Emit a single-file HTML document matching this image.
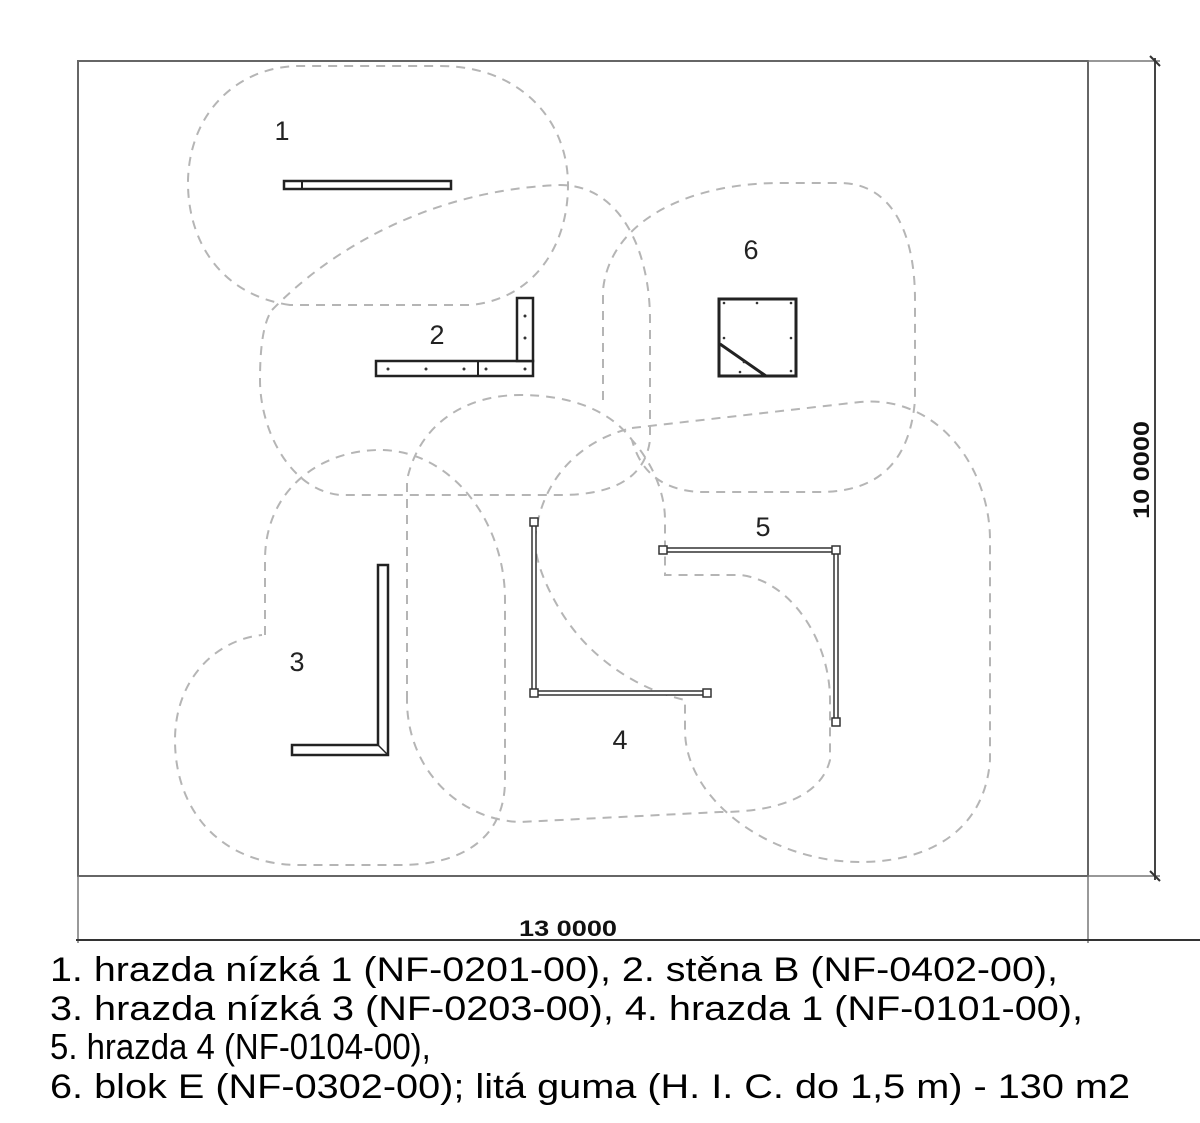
<!DOCTYPE html>
<html><head><meta charset="utf-8"><style>html,body{margin:0;padding:0;background:#fff}svg{display:block}</style></head>
<body>
<svg width="1200" height="1123" viewBox="0 0 1200 1123" xmlns="http://www.w3.org/2000/svg" font-family="Liberation Sans, sans-serif">
<rect width="1200" height="1123" fill="#fff"/>
<rect x="78" y="61" width="1010" height="815" fill="none" stroke="#666" stroke-width="2"/>
<line x1="1088" y1="61" x2="1160" y2="61" stroke="#777" stroke-width="1.5"/>
<line x1="1088" y1="876" x2="1160" y2="876" stroke="#777" stroke-width="1.5"/>
<line x1="1155" y1="58" x2="1155" y2="880" stroke="#444" stroke-width="2"/>
<line x1="1150" y1="56" x2="1160" y2="66" stroke="#333" stroke-width="2"/>
<line x1="1150" y1="871" x2="1160" y2="881" stroke="#333" stroke-width="2"/>
<line x1="78" y1="876" x2="78" y2="943" stroke="#777" stroke-width="1.5"/>
<line x1="1088" y1="876" x2="1088" y2="943" stroke="#777" stroke-width="1.5"/>
<line x1="76" y1="940" x2="1200" y2="940" stroke="#333" stroke-width="2"/>
<text x="568" y="936" font-size="22" font-weight="bold" text-anchor="middle" fill="#111" textLength="98" lengthAdjust="spacingAndGlyphs">13 0000</text>
<text transform="translate(1149,470) rotate(-90)" font-size="22" font-weight="bold" text-anchor="middle" fill="#111" textLength="98" lengthAdjust="spacingAndGlyphs">10 0000</text>
<g fill="none" stroke="#b5b5b5" stroke-width="2" stroke-dasharray="9,7">
<path d="M290,305 C220,295 187,240 188,180 C190,110 240,66 300,66 L440,66 C520,66 568,120 568,185 C568,250 530,300 470,305 Z"/>
<path d="M272,310 C330,250 430,190 560,185 C620,185 650,250 650,320 L650,440 C645,480 610,495 560,495 L340,495 C290,490 260,430 260,380 C260,340 265,320 272,310 Z"/>
<path d="M603,400 L603,290 C610,220 690,183 780,183 L840,183 C890,183 915,230 915,300 L915,400 C910,460 880,492 820,492 L700,492 C660,490 640,470 632,440"/>
<path d="M265,635 L265,560 C265,490 320,450 380,450 C450,450 505,520 505,600 L505,780 C505,840 460,865 400,865 L300,865 C220,865 175,810 175,740 C175,680 215,640 262,635"/>
<path d="M407,700 L407,480 C420,420 470,395 520,395 C570,395 610,410 632,440 C650,460 665,490 665,520 L665,575 L740,575 C790,580 830,640 830,700 L830,760 C820,800 770,812 720,812 L520,822 C460,820 407,770 407,700 Z"/>
<path d="M632,428 L860,402 C940,395 990,470 990,540 L990,760 C985,830 930,862 860,862 C770,862 685,800 685,730 L685,700 C640,690 590,660 560,610 C545,585 535,560 535,540"/>
<path d="M535,540 C540,480 580,440 632,428"/>
</g>
<rect x="284" y="181" width="167" height="8" fill="#fff" stroke="#222" stroke-width="2.5"/>
<line x1="302" y1="181" x2="302" y2="189" stroke="#222" stroke-width="2"/>
<rect x="376" y="361" width="157" height="15" fill="#fff" stroke="#222" stroke-width="2.5"/>
<rect x="517" y="298" width="16" height="63" fill="#fff" stroke="#222" stroke-width="2.5"/>
<line x1="478" y1="361" x2="478" y2="376" stroke="#222" stroke-width="2"/>
<g fill="#333"><circle cx="388" cy="369" r="1.5"/><circle cx="426" cy="369" r="1.5"/><circle cx="464" cy="369" r="1.5"/><circle cx="486" cy="369" r="1.5"/><circle cx="525" cy="369" r="1.5"/><circle cx="525" cy="316" r="1.5"/><circle cx="525" cy="338" r="1.5"/></g>
<rect x="719" y="299" width="77" height="77" fill="#fff" stroke="#222" stroke-width="3"/>
<line x1="720" y1="344" x2="766" y2="376" stroke="#222" stroke-width="3"/>
<g fill="#333"><circle cx="724" cy="303" r="1.3"/><circle cx="757" cy="303" r="1.3"/><circle cx="791" cy="303" r="1.3"/><circle cx="724" cy="338" r="1.3"/><circle cx="791" cy="338" r="1.3"/><circle cx="744" cy="362" r="1.3"/><circle cx="791" cy="371" r="1.3"/><circle cx="740" cy="372" r="1.3"/></g>
<path d="M378,565 L388,565 L388,755 L292,755 L292,745 L378,745 Z" fill="#fff" stroke="#222" stroke-width="2.5"/>
<line x1="378" y1="745" x2="388" y2="755" stroke="#222" stroke-width="1.5"/>
<g stroke="#333" fill="#fff">
<rect x="532" y="522" width="4" height="171" stroke-width="1.5"/>
<rect x="534" y="691" width="173" height="4" stroke-width="1.5"/>
<rect x="530" y="518" width="8" height="8" stroke-width="1.5"/>
<rect x="530" y="689" width="8" height="8" stroke-width="1.5"/>
<rect x="703" y="689" width="8" height="8" stroke-width="1.5"/>
<rect x="663" y="548" width="173" height="4" stroke-width="1.5"/>
<rect x="834" y="550" width="4" height="172" stroke-width="1.5"/>
<rect x="659" y="546" width="8" height="8" stroke-width="1.5"/>
<rect x="832" y="546" width="8" height="8" stroke-width="1.5"/>
<rect x="832" y="718" width="8" height="8" stroke-width="1.5"/>
</g>
<g font-size="27" fill="#222" text-anchor="middle">
<text x="282" y="140">1</text>
<text x="437" y="344">2</text>
<text x="751" y="259">6</text>
<text x="763" y="536">5</text>
<text x="297" y="671">3</text>
<text x="620" y="749">4</text>
</g>
<g font-size="34" fill="#000">
<text x="50" y="981" textLength="1008" lengthAdjust="spacingAndGlyphs">1. hrazda nízká 1 (NF-0201-00), 2. stěna B (NF-0402-00),</text>
<text x="50" y="1020" textLength="1033" lengthAdjust="spacingAndGlyphs">3. hrazda nízká 3 (NF-0203-00), 4. hrazda 1 (NF-0101-00),</text>
<text transform="translate(50,1059) scale(0.915,1)" x="0" y="0" font-size="36">5. hrazda 4 (NF-0104-00),</text>
<text x="50" y="1098" textLength="1080" lengthAdjust="spacingAndGlyphs">6. blok E (NF-0302-00); litá guma (H. I. C. do 1,5 m) - 130 m2</text>
</g>
</svg>
</body></html>
